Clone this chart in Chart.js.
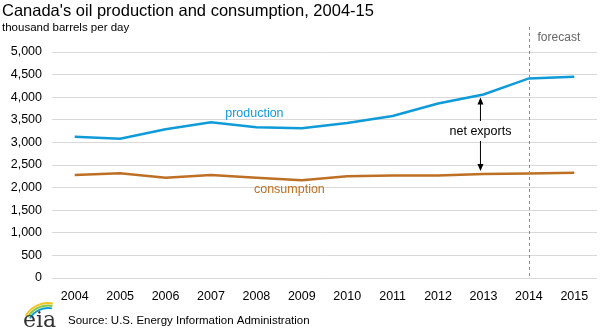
<!DOCTYPE html>
<html>
<head>
<meta charset="utf-8">
<script src="https://cdn.jsdelivr.net/npm/chart.js@4"></script>
<style>
  html, body { margin: 0; padding: 0; background: #fff; }
  #wrap { position: relative; width: 600px; height: 329px; }
</style>
</head>
<body>
<div id="wrap"><canvas id="chart" width="600" height="329"></canvas></div>
<script>
// years and values (thousand barrels per day)
const years = ['2004', '2005', '2006', '2007', '2008', '2009', '2010', '2011', '2012', '2013', '2014', '2015'];
const production = [3125, 3080, 3290, 3445, 3335, 3315, 3430, 3585, 3860, 4060, 4415, 4455];
const consumption = [2280, 2315, 2220, 2280, 2220, 2160, 2250, 2265, 2270, 2300, 2310, 2330];
const yTicks = [0, 500, 1000, 1500, 2000, 2500, 3000, 3500, 4000, 4500, 5000];
const forecastYear = '2014';

const FONT = '"Liberation Sans", Arial, sans-serif';
const BLUE = '#0f9bd7';
const BROWN = '#bd6f24';

// annotations, labels, title and logo drawn on the canvas
const extras = {
    id: 'extras',
    afterDraw(chart) {
        const ctx = chart.ctx;
        const x = chart.scales.x;
        const y = chart.scales.y;
        const area = chart.chartArea;
        ctx.save();

        // title + units
        ctx.fillStyle = '#000';
        ctx.textBaseline = 'alphabetic';
        ctx.textAlign = 'left';
        ctx.font = '16.5px ' + FONT;
        ctx.fillText("Canada's oil production and consumption, 2004-15", 2, 16);
        ctx.font = '11.5px ' + FONT;
        ctx.fillText('thousand barrels per day', 2, 31);

        // forecast divider
        const fx = x.getPixelForValue(years.indexOf(forecastYear));
        ctx.strokeStyle = '#8c8c8c';
        ctx.lineWidth = 1;
        ctx.setLineDash([3, 3]);
        ctx.beginPath();
        ctx.moveTo(Math.round(fx) + 0.5, 27);
        ctx.lineTo(Math.round(fx) + 0.5, area.bottom);
        ctx.stroke();
        ctx.setLineDash([]);
        ctx.fillStyle = '#666';
        ctx.font = '12px ' + FONT;
        ctx.textAlign = 'center';
        ctx.fillText('forecast', fx + 30, 41);

        // series labels
        ctx.font = '12.5px ' + FONT;
        ctx.fillStyle = BLUE;
        ctx.fillText('production', x.getPixelForValue(4) - 2, 117);
        ctx.fillStyle = BROWN;
        ctx.fillText('consumption', x.getPixelForValue(4) + 33, 193);

        // net exports arrows at 2013
        const i = years.indexOf('2013');
        const ax = x.getPixelForValue(i) - 3;
        const top = y.getPixelForValue(production[i]) + 3;
        const bot = y.getPixelForValue(consumption[i]) - 3;
        ctx.strokeStyle = '#000';
        ctx.fillStyle = '#000';
        ctx.lineWidth = 1;
        ctx.beginPath();
        ctx.moveTo(ax, top + 5); ctx.lineTo(ax, 121);
        ctx.moveTo(ax, 141); ctx.lineTo(ax, bot - 5);
        ctx.stroke();
        ctx.beginPath();
        ctx.moveTo(ax, top); ctx.lineTo(ax - 3, top + 7); ctx.lineTo(ax + 3, top + 7); ctx.closePath();
        ctx.moveTo(ax, bot); ctx.lineTo(ax - 3, bot - 7); ctx.lineTo(ax + 3, bot - 7); ctx.closePath();
        ctx.fill();
        ctx.font = '12.5px ' + FONT;
        ctx.fillText('net exports', ax, 135);

        // source
        ctx.textAlign = 'left';
        ctx.fillStyle = '#000';
        ctx.font = '11.5px ' + FONT;
        ctx.fillText('Source: U.S. Energy Information Administration', 68, 324);

        // eia logo
        ctx.lineWidth = 2;
        const arcs = ['#f6c324', '#8cc63f', '#0f9bd7'];
        arcs.forEach((c, k) => {
            ctx.strokeStyle = c;
            ctx.beginPath();
            ctx.arc(48, 329, 26 - k * 2.5, Math.PI * 1.17, Math.PI * 1.56);
            ctx.stroke();
        });
        ctx.fillStyle = '#333';
        ctx.font = '22px "DejaVu Serif", "Liberation Serif", serif';
        ctx.fillText('eia', 23, 327);

        ctx.restore();
    }
};

new Chart(document.getElementById('chart'), {
    type: 'line',
    data: {
        labels: years,
        datasets: [
            {
                label: 'production',
                data: production,
                borderColor: BLUE,
                borderWidth: 2.5,
                pointRadius: 0,
                tension: 0,
                fill: false
            },
            {
                label: 'consumption',
                data: consumption,
                borderColor: BROWN,
                borderWidth: 2.5,
                pointRadius: 0,
                tension: 0,
                fill: false
            }
        ]
    },
    options: {
        responsive: false,
        animation: false,
        layout: { padding: { top: 52, right: 3, bottom: 21, left: 0 } },
        plugins: {
            legend: { display: false },
            tooltip: { enabled: false }
        },
        scales: {
            x: {
                offset: true,
                grid: { display: false, drawTicks: false },
                border: { display: false },
                ticks: {
                    color: '#000',
                    font: { family: FONT, size: 12.5 },
                    padding: 11,
                    maxRotation: 0
                },
                afterFit(scale) { scale.height = 30; }
            },
            y: {
                min: 0,
                max: 5000,
                grid: { color: '#d9d9d9', lineWidth: 1, drawTicks: false },
                border: { display: false },
                afterBuildTicks(scale) { scale.ticks = yTicks.map(v => ({ value: v })); },
                ticks: {
                    color: '#000',
                    font: { family: FONT, size: 12.5 },
                    padding: 10,
                    callback: v => v.toLocaleString('en-US')
                },
                afterFit(scale) { scale.width = 52; }
            }
        }
    },
    plugins: [extras]
});
</script>
</body>
</html>
